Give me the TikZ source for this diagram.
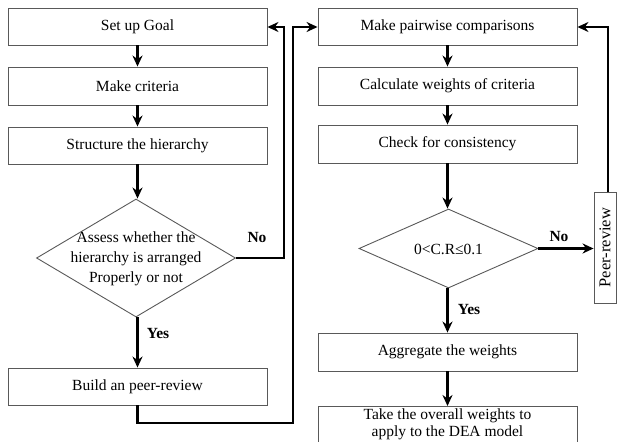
\documentclass[tikz,border=0pt]{standalone}
\usepackage{fontspec}
\setmainfont{Liberation Serif}
\usetikzlibrary{shapes.geometric,arrows.meta}
\begin{document}
\begin{tikzpicture}[x=1pt,y=-1pt,
  box/.style={draw=black!65,line width=0.9pt,rectangle,minimum width=259pt,inner sep=0pt,font=\fontsize{15.5}{18}\selectfont,align=center},
  dia/.style={draw=black!65,line width=0.9pt,diamond,inner sep=0pt},
  txt/.style={font=\fontsize{15.5}{20}\selectfont,align=center,inner sep=0pt},
  lbl/.style={font=\fontsize{15.5}{18}\selectfont\bfseries,inner sep=0pt},
  conn/.style={line width=2.4pt,-{Stealth[length=11pt,width=10pt]}},
  line/.style={line width=2.4pt}]
\useasboundingbox (0,0) rectangle (617,441);
% left column
\node[box,minimum height=37pt] (goal) at (137.5,26.5) {Set up Goal};
\node[box,minimum height=38pt] (crit) at (137.5,86) {Make criteria};
\node[box,minimum height=37pt] (struct) at (137.5,145.5) {Structure the hierarchy};
\node[dia,minimum width=199pt,minimum height=118pt] (assess) at (136,258) {};
\node[txt] (assesst) at (136,259) {Assess whether the\\hierarchy is arranged\\Properly or not};
\node[box,minimum height=37pt] (build) at (137.5,386.5) {Build an peer-review};
% right column
\node[box,minimum height=37pt] (pair) at (447.5,26.5) {Make pairwise comparisons};
\node[box,minimum height=38pt] (calc) at (447.5,86) {Calculate weights of criteria};
\node[box,minimum height=38pt] (check) at (447.5,144) {Check for consistency};
\node[dia,minimum width=179pt,minimum height=79pt] (cr) at (448.5,248.5) {};
\node[txt] (crt) at (448.5,249) {0<C.R≤0.1};
\node[box,minimum height=56pt,anchor=north] (take) at (447.5,406) {};
\node[font=\fontsize{15.5}{16.5}\selectfont,align=center,inner sep=0pt,anchor=north] (taket) at (447.5,409) {Take the overall weights to\\apply to the DEA model};
\node[box,minimum height=38pt] (agg) at (447.5,352) {Aggregate the weights};
\node[draw=black!65,line width=0.9pt,minimum width=111pt,minimum height=22pt,inner sep=0pt,rotate=90,font=\fontsize{16.5}{18}\selectfont] (peer) at (605,247.5) {Peer-review};
% coordinates
\coordinate (n1) at (284,258);
\coordinate (n1t) at (284,27);
\coordinate (b1) at (137.5,423);
\coordinate (b2) at (293,423);
\coordinate (b3) at (293,27);
\coordinate (p1) at (608,192);
\coordinate (p2) at (608,27);
% connectors
\draw[conn] (goal) -- (crit);
\draw[conn] (crit) -- (struct);
\draw[conn] (struct.south) -- (struct.south |- assess.north);
\draw[conn] (assess.south -| build.north) -- (build.north);
\draw[conn] (assess.east) -- (n1) -- (n1t) -- (goal.east |- n1t);
\draw[conn] (build.south) -- (b1) -- (b2) -- (b3) -- (pair.west |- b3);
\draw[conn] (pair) -- (calc);
\draw[conn] (calc) -- (check);
\draw[conn] (check.south) -- (check.south |- cr.north);
\draw[conn] (cr.east) -- (peer.north |- cr.east);
\draw[conn] (cr.south -| agg.north) -- (agg.north);
\draw[conn] (agg) -- (take);
\draw[conn] (p1) -- (p2) -- (pair.east |- p2);
% labels
\node[lbl] (no1) at (257,237) {No};
\node[lbl] (yes1) at (158,333) {Yes};
\node[lbl] (no2) at (559,236) {No};
\node[lbl] (yes2) at (469,309) {Yes};
\end{tikzpicture}
\end{document}
